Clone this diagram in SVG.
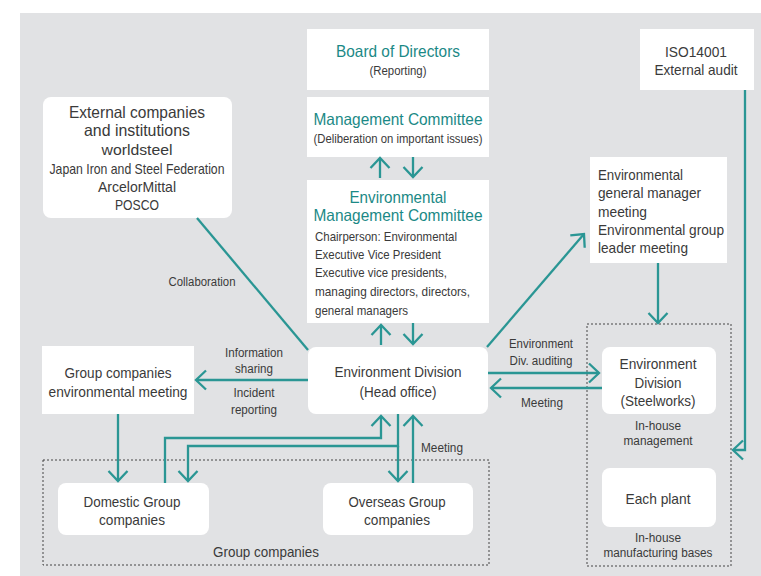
<svg xmlns="http://www.w3.org/2000/svg" width="761" height="576" viewBox="0 0 761 576">
<defs>
<style>
text{font-family:"Liberation Sans",Arial,sans-serif;fill:#3a3a3a;}
.t{fill:#1b8986;font-size:16.5px;text-anchor:middle;}
.s{font-size:12.5px;text-anchor:middle;}
.m{font-size:14.5px;text-anchor:middle;}
.st{text-anchor:start;}
.b{font-size:13px;}
.box{fill:#ffffff;}
.ln{fill:none;stroke:#2a9694;stroke-width:2.3;}
.dash{fill:none;stroke:#444;stroke-width:1;stroke-dasharray:2,2;}
</style>
<marker id="ah" viewBox="-12 -11 14 22" refX="0" refY="0" markerWidth="14" markerHeight="22" markerUnits="userSpaceOnUse" orient="auto">
<path d="M-10,-9.5 L0,0 L-10,9.5" fill="none" stroke="#2a9694" stroke-width="2.3"/>
</marker>
</defs>
<rect x="20" y="13" width="741" height="563" fill="#e1e2e4"/>

<g id="board">
<rect class="box" x="307" y="29" width="182" height="61"/>
<text class="t" x="398" y="57" textLength="124" lengthAdjust="spacingAndGlyphs">Board of Directors</text>
<text class="s" x="398" y="75" textLength="57" lengthAdjust="spacingAndGlyphs">(Reporting)</text>
</g>
<g id="mgmt">
<rect class="box" x="307" y="97" width="182" height="60"/>
<text class="t" x="398" y="125" textLength="169" lengthAdjust="spacingAndGlyphs">Management Committee</text>
<text class="s" x="398" y="143" textLength="169" lengthAdjust="spacingAndGlyphs">(Deliberation on important issues)</text>
</g>
<g id="emc">
<rect class="box" x="307" y="180" width="182" height="143"/>
<text class="t" x="398" y="203" textLength="97" lengthAdjust="spacingAndGlyphs">Environmental</text>
<text class="t" x="398" y="221" textLength="169" lengthAdjust="spacingAndGlyphs">Management Committee</text>
<text class="b" x="315" y="241" textLength="142" lengthAdjust="spacingAndGlyphs">Chairperson: Environmental</text>
<text class="b" x="315" y="259" textLength="126" lengthAdjust="spacingAndGlyphs">Executive Vice President</text>
<text class="b" x="315" y="277" textLength="132" lengthAdjust="spacingAndGlyphs">Executive vice presidents,</text>
<text class="b" x="315" y="296" textLength="155" lengthAdjust="spacingAndGlyphs">managing directors, directors,</text>
<text class="b" x="315" y="315" textLength="93" lengthAdjust="spacingAndGlyphs">general managers</text>
</g>
<g id="external">
<rect class="box" x="43" y="97" width="189" height="121" rx="8"/>
<text x="137" y="118" style="font-size:16.5px;text-anchor:middle" textLength="136" lengthAdjust="spacingAndGlyphs">External companies</text>
<text x="137" y="136" style="font-size:16.5px;text-anchor:middle" textLength="106" lengthAdjust="spacingAndGlyphs">and institutions</text>
<text class="m" x="137" y="155" textLength="71" lengthAdjust="spacingAndGlyphs">worldsteel</text>
<text class="m" x="137" y="174" textLength="175" lengthAdjust="spacingAndGlyphs">Japan Iron and Steel Federation</text>
<text class="m" x="137" y="192" textLength="78" lengthAdjust="spacingAndGlyphs">ArcelorMittal</text>
<text class="m" x="137" y="210" textLength="44" lengthAdjust="spacingAndGlyphs">POSCO</text>
</g>
<g id="iso">
<rect class="box" x="640" y="29" width="114" height="61"/>
<text class="m" x="696" y="57" textLength="62" lengthAdjust="spacingAndGlyphs">ISO14001</text>
<text class="m" x="696" y="75" textLength="83" lengthAdjust="spacingAndGlyphs">External audit</text>
</g>
<g id="gm-meeting">
<rect class="box" x="590" y="157" width="137" height="106"/>
<text class="m st" x="598" y="180" textLength="85" lengthAdjust="spacingAndGlyphs">Environmental</text>
<text class="m st" x="598" y="198" textLength="103" lengthAdjust="spacingAndGlyphs">general manager</text>
<text class="m st" x="598" y="217" textLength="49" lengthAdjust="spacingAndGlyphs">meeting</text>
<text class="m st" x="598" y="235" textLength="126" lengthAdjust="spacingAndGlyphs">Environmental group</text>
<text class="m st" x="598" y="253" textLength="90" lengthAdjust="spacingAndGlyphs">leader meeting</text>
</g>
<g id="env-div">
<rect class="box" x="308" y="347" width="180" height="67" rx="8"/>
<text class="m" x="398" y="377" style="font-size:15px" textLength="127" lengthAdjust="spacingAndGlyphs">Environment Division</text>
<text class="m" x="398" y="397" style="font-size:15px" textLength="77" lengthAdjust="spacingAndGlyphs">(Head office)</text>
</g>
<g id="group-meeting">
<rect class="box" x="42" y="346" width="152" height="68"/>
<text class="m" x="118" y="378" style="font-size:15px" textLength="107" lengthAdjust="spacingAndGlyphs">Group companies</text>
<text class="m" x="118" y="397" style="font-size:15px" textLength="139" lengthAdjust="spacingAndGlyphs">environmental meeting</text>
</g>
<g id="group-companies">
<rect class="dash" x="43" y="460" width="446" height="105"/>
<text class="m" x="266" y="557" textLength="106" lengthAdjust="spacingAndGlyphs">Group companies</text>
</g>
<g id="domestic">
<rect class="box" x="58" y="483" width="151" height="52" rx="8"/>
<text class="m" x="132" y="507" textLength="97" lengthAdjust="spacingAndGlyphs">Domestic Group</text>
<text class="m" x="132" y="525" textLength="66" lengthAdjust="spacingAndGlyphs">companies</text>
</g>
<g id="overseas">
<rect class="box" x="323" y="483" width="150" height="52" rx="8"/>
<text class="m" x="397" y="507" textLength="97" lengthAdjust="spacingAndGlyphs">Overseas Group</text>
<text class="m" x="397" y="525" textLength="66" lengthAdjust="spacingAndGlyphs">companies</text>
</g>
<g id="inhouse">
<rect class="dash" x="587" y="324" width="144" height="242"/>
</g>
<g id="steelworks">
<rect class="box" x="602" y="347" width="114" height="67" rx="8"/>
<text class="m" x="658" y="369" style="font-size:15px" textLength="77" lengthAdjust="spacingAndGlyphs">Environment</text>
<text class="m" x="658" y="388" style="font-size:15px" textLength="47" lengthAdjust="spacingAndGlyphs">Division</text>
<text class="m" x="658" y="406" style="font-size:15px" textLength="75" lengthAdjust="spacingAndGlyphs">(Steelworks)</text>
<text class="s" x="658" y="430" textLength="46" lengthAdjust="spacingAndGlyphs">In-house</text>
<text class="s" x="658" y="445" textLength="69" lengthAdjust="spacingAndGlyphs">management</text>
</g>
<g id="plant">
<rect class="box" x="602" y="468" width="114" height="59" rx="8"/>
<text class="m" x="658" y="504" style="font-size:15px" textLength="65" lengthAdjust="spacingAndGlyphs">Each plant</text>
<text class="s" x="658" y="542" textLength="46" lengthAdjust="spacingAndGlyphs">In-house</text>
<text class="s" x="658" y="557" textLength="109" lengthAdjust="spacingAndGlyphs">manufacturing bases</text>
</g>

<g id="connectors">
<line class="ln" x1="380" y1="178" x2="380" y2="158" marker-end="url(#ah)"/>
<line class="ln" x1="413" y1="157" x2="413" y2="177" marker-end="url(#ah)"/>
<line class="ln" x1="381" y1="345" x2="381" y2="325" marker-end="url(#ah)"/>
<line class="ln" x1="413" y1="323" x2="413" y2="344" marker-end="url(#ah)"/>
<line class="ln" x1="197" y1="218" x2="308" y2="350"/>
<line class="ln" x1="487" y1="347" x2="584" y2="234" marker-end="url(#ah)"/>
<line class="ln" x1="308" y1="380" x2="196" y2="380" marker-end="url(#ah)"/>
<line class="ln" x1="488" y1="373" x2="599" y2="373" marker-end="url(#ah)"/>
<line class="ln" x1="602" y1="388" x2="491" y2="388" marker-end="url(#ah)"/>
<line class="ln" x1="658" y1="263" x2="658" y2="323" marker-end="url(#ah)"/>
<polyline class="ln" points="745,90 745,450 733,450" marker-end="url(#ah)"/>
<line class="ln" x1="118" y1="414" x2="118" y2="481" marker-end="url(#ah)"/>
<polyline class="ln" points="165,483 165,438 381,438 381,416" marker-end="url(#ah)"/>
<polyline class="ln" points="398,414 398,446 188,446 188,481" marker-end="url(#ah)"/>
<line class="ln" x1="398" y1="446" x2="398" y2="481" marker-end="url(#ah)"/>
<line class="ln" x1="413" y1="483" x2="413" y2="416" marker-end="url(#ah)"/>
<text class="s" x="202" y="286" textLength="67" lengthAdjust="spacingAndGlyphs">Collaboration</text>
<text class="s" x="254" y="357" textLength="58" lengthAdjust="spacingAndGlyphs">Information</text>
<text class="s" x="254" y="373" textLength="38" lengthAdjust="spacingAndGlyphs">sharing</text>
<text class="s" x="254" y="397" textLength="41" lengthAdjust="spacingAndGlyphs">Incident</text>
<text class="s" x="254" y="414" textLength="46" lengthAdjust="spacingAndGlyphs">reporting</text>
<text class="s" x="541" y="348" textLength="64" lengthAdjust="spacingAndGlyphs">Environment</text>
<text class="s" x="541" y="365" textLength="63" lengthAdjust="spacingAndGlyphs">Div. auditing</text>
<text class="s" x="542" y="407" textLength="42" lengthAdjust="spacingAndGlyphs">Meeting</text>
<text class="s st" x="421" y="452" textLength="42" lengthAdjust="spacingAndGlyphs">Meeting</text>
</g>
</svg>
